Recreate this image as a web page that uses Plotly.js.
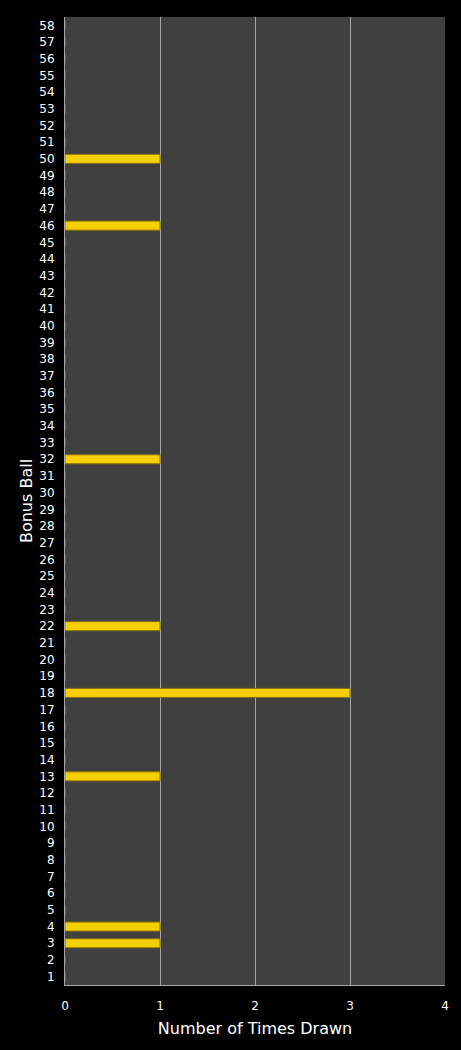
<!DOCTYPE html>
<html>
<head>
<meta charset="utf-8">
<script src="https://cdn.plot.ly/plotly-3.0.1.min.js"></script>
<style>
  html, body { margin: 0; padding: 0; background: #000; }
  #chart { width: 461px; height: 1050px; }
</style>
</head>
<body>
<div id="chart"></div>
<script>
// Bonus ball numbers 1..58 and how many times each was drawn
const balls = [1, 2, 3, 4, 5, 6, 7, 8, 9, 10, 11, 12, 13, 14, 15, 16, 17, 18, 19, 20,
               21, 22, 23, 24, 25, 26, 27, 28, 29, 30, 31, 32, 33, 34, 35, 36, 37, 38, 39, 40,
               41, 42, 43, 44, 45, 46, 47, 48, 49, 50, 51, 52, 53, 54, 55, 56, 57, 58];
const timesDrawn = [0, 0, 1, 1, 0, 0, 0, 0, 0, 0, 0, 0, 1, 0, 0, 0, 0, 3, 0, 0,
                    0, 1, 0, 0, 0, 0, 0, 0, 0, 0, 0, 1, 0, 0, 0, 0, 0, 0, 0, 0,
                    0, 0, 0, 0, 0, 1, 0, 0, 0, 1, 0, 0, 0, 0, 0, 0, 0, 0];
const xTicks = [0, 1, 2, 3, 4];

const font = { family: "'DejaVu Sans', Verdana, sans-serif", color: '#ffffff', size: 12 };

const trace = {
    type: 'bar',
    orientation: 'h',
    x: timesDrawn,
    y: balls,
    marker: {
        color: '#f5cf00',
        line: { color: '#8c7000', width: 1 }
    },
    hoverinfo: 'x+y'
};

const layout = {
    width: 461,
    height: 1050,
    paper_bgcolor: '#000000',
    plot_bgcolor: '#404040',
    font: font,
    margin: { l: 65, r: 16, t: 17, b: 65 },
    showlegend: false,
    bargap: 0.46,
    xaxis: {
        range: [0, 4],
        tickvals: xTicks,
        ticktext: xTicks.map(String),
        showgrid: true,
        gridcolor: '#a6a6a6',
        gridwidth: 1,
        zeroline: false,
        showline: true,
        linecolor: '#a6a6a6',
        ticks: '',
        ticklabelstandoff: 10,
        tickfont: { size: 12 },
        title: { text: 'Number of Times Drawn', font: { size: 16 }, standoff: 10 }
    },
    yaxis: {
        range: [0.5, 58.5],
        tickvals: balls,
        ticktext: balls.map(String),
        showgrid: false,
        zeroline: false,
        showline: true,
        linecolor: '#a6a6a6',
        ticks: '',
        ticklabelstandoff: 7,
        tickfont: { size: 12 },
        title: { text: 'Bonus Ball', font: { size: 16 }, standoff: 2 }
    }
};

Plotly.newPlot('chart', [trace], layout, { displayModeBar: false, staticPlot: true });
</script>
</body>
</html>
